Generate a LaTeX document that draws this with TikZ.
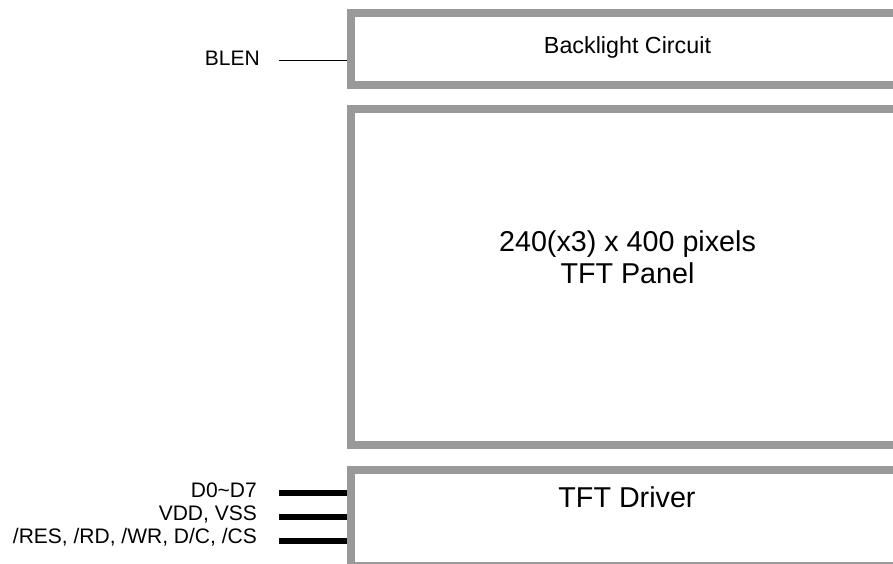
\documentclass[tikz,border=0pt]{standalone}
\usepackage{fontspec}
\setmainfont{Liberation Sans}
\definecolor{framegray}{RGB}{153,153,153}
\begin{document}
\begin{tikzpicture}[
  x=1pt, y=-1pt,
  box/.style={draw=framegray, line width=8pt, fill=white, minimum width=552pt, inner sep=0pt},
  sig/.style={font=\fontsize{21}{23}\selectfont, anchor=base east, inner sep=0pt},
  big/.style={font=\fontsize{28.7}{31.6}\selectfont, align=center, inner sep=0pt},
  wire/.style={line width=1.3pt},
  bus/.style={line width=6pt}
]
\useasboundingbox (0,0) rectangle (893,564);
\clip (0,0) rectangle (893,564);
\node[box, minimum height=71.7pt] (backlight) at (627,48.85) {};
\node[box, minimum height=336pt] (panel) at (627,277) {};
\node[box, minimum height=96.5pt] (driver) at (627,517.75) {};
\node[font=\fontsize{23.3}{26}\selectfont, anchor=base, inner sep=0pt] (bltext) at (627.5,54) {Backlight Circuit};
\node[big, anchor=base] (paneltext) at (627.5,283.3) {240(x3) x 400 pixels\\TFT Panel};
\node[big, anchor=base] (drvtext) at (627,507.3) {TFT Driver};
\node[sig] (blen) at (260,65.7) {BLEN};
\node[sig] (data) at (257,497) {D0\textasciitilde D7};
\node[sig] (power) at (257,520) {VDD, VSS};
\node[sig] (ctrl) at (257,543.3) {/RES, /RD, /WR, D/C, /CS};
\coordinate (blenw) at (279,60.7);
\coordinate (dataw) at (279,492.7);
\coordinate (powerw) at (279,517.3);
\coordinate (ctrlw) at (279,540.7);
\draw[wire] (blenw) -- (blenw -| backlight.west);
\draw[bus] (dataw) -- (dataw -| driver.west);
\draw[bus] (powerw) -- (powerw -| driver.west);
\draw[bus] (ctrlw) -- (ctrlw -| driver.west);
\end{tikzpicture}
\end{document}
